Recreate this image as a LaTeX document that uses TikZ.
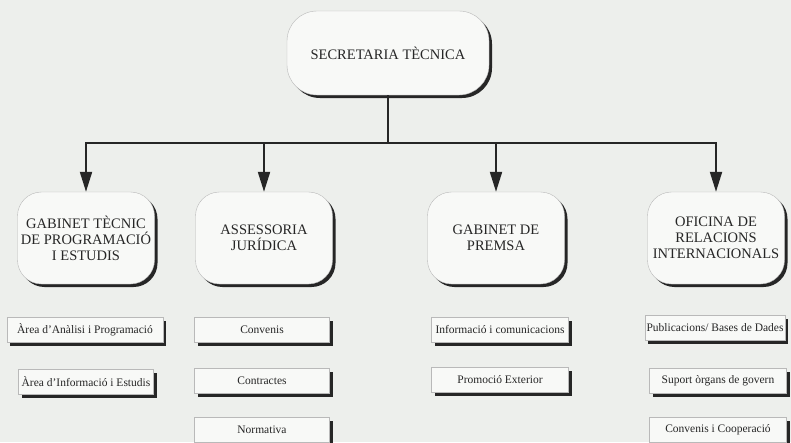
\documentclass[tikz,border=0pt]{standalone}
\usepackage{fontspec}
\setmainfont{Liberation Serif}
\usetikzlibrary{arrows.meta,shadows}
\definecolor{paper}{HTML}{EDEFEC}
\definecolor{boxfill}{HTML}{F8F9F7}
\definecolor{ink}{HTML}{262626}

\begin{document}
\begin{tikzpicture}[x=1pt, y=-1pt,
  unit/.style={draw=gray!55, fill=boxfill, rounded corners=24pt, text=ink,
    align=center, inner sep=0pt, minimum width=137pt, minimum height=92pt,
    font=\fontsize{14.5}{16}\selectfont,
    drop shadow={shadow xshift=3pt, shadow yshift=-3pt, fill=ink, opacity=1}},
  sub/.style={draw=gray!55, fill=boxfill, text=ink, inner sep=0pt,
    minimum height=25pt, font=\fontsize{11.5}{13}\selectfont,
    drop shadow={shadow xshift=3pt, shadow yshift=-3pt, fill=ink, opacity=1}},
  link/.style={ink, line width=2pt},
  arr/.style={link, -{Triangle[length=20pt, width=12pt]}}]

  \useasboundingbox (0,0) rectangle (791,442);
  \fill[paper] (0,0) rectangle (791,442);

  %% top
  \node[unit, minimum width=202pt, minimum height=84pt, rounded corners=30pt]
    (secr) at (388,53) {SECRETARIA TÈCNICA};
  \coordinate (bus) at (388,143);

  %% units
  \node[unit] (gtec) at (86,238) {GABINET TÈCNIC\\DE PROGRAMACIÓ\\I ESTUDIS};
  \node[unit] (asse) at (264,238) {ASSESSORIA\\JURÍDICA};
  \node[unit] (prem) at (496,238) {GABINET DE\\PREMSA};
  \node[unit] (ofic) at (716,238) {OFICINA DE\\RELACIONS\\INTERNACIONALS};

  \draw[link] (secr.south) -- (bus);
  \foreach \u in {gtec, asse, prem, ofic}
    \draw[arr] (bus) -| (\u.north);

  %% areas
  \node[sub, minimum width=156pt] (anal) at (85,330) {Àrea d'Anàlisi i Programació};
  \node[sub, minimum width=135pt] (info) at (86,382) {Àrea d'Informació i Estudis};

  \node[sub, minimum width=135pt] (conv) at (262,330) {Convenis};
  \node[sub, minimum width=135pt] (cont) at (262,381) {Contractes};
  \node[sub, minimum width=135pt] (norm) at (262,430) {Normativa};

  \node[sub, minimum width=137pt] (icom) at (500,330) {Informació i comunicacions};
  \node[sub, minimum width=137pt] (prom) at (500,380) {Promoció Exterior};

  \node[sub, minimum width=140pt] (publ) at (715,328) {Publicacions/ Bases de Dades};
  \node[sub, minimum width=137pt] (supo) at (718,381) {Suport òrgans de govern};
  \node[sub, minimum width=137pt] (coop) at (718,430) {Convenis i Cooperació};
\end{tikzpicture}
\end{document}
